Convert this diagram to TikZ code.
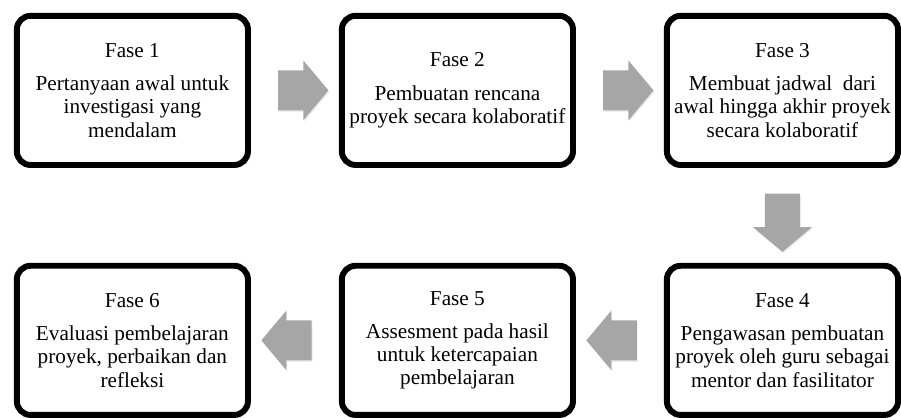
\documentclass[tikz,border=0pt]{standalone}
\usepackage{fontspec}
\setmainfont{Liberation Serif}
\usetikzlibrary{positioning,calc,shapes.arrows,shadows}
\definecolor{panahgray}{RGB}{166,166,166}

\begin{document}
\begin{tikzpicture}[node distance=102pt and 95pt]
  \tikzstyle{fase} = [draw=black, line width=6pt, rounded corners=14pt, fill=white,
    minimum width=234pt, minimum height=151pt, outer sep=0pt, align=center,
    font=\fontsize{21.5}{23.5}\selectfont,
    drop shadow={opacity=0.25, shadow xshift=2pt, shadow yshift=-3pt}]
  \tikzstyle{panah} = [single arrow, fill=panahgray, draw=none, inner xsep=0pt,
    inner ysep=20pt, minimum height=51pt, single arrow head extend=10pt,
    single arrow tip angle=100,
    drop shadow={opacity=0.15, shadow xshift=1pt, shadow yshift=-1.5pt}]
  \node (f1) [fase] {Fase 1\\[10pt]Pertanyaan awal untuk\\investigasi yang\\mendalam};
  \node (f2) [fase, right=of f1] {Fase 2\\[10pt]Pembuatan rencana\\proyek secara kolaboratif};
  \node (f3) [fase, right=of f2] {Fase 3\\[10pt]Membuat jadwal\ \ dari\\awal hingga akhir proyek\\secara kolaboratif};
  \node (f4) [fase, below=of f3] {Fase 4\\[10pt]Pengawasan pembuatan\\proyek oleh guru sebagai\\mentor dan fasilitator};
  \node (f5) [fase, left=of f4] {Fase 5\\[10pt]Assesment pada hasil\\untuk ketercapaian\\pembelajaran};
  \node (f6) [fase, left=of f5] {Fase 6\\[10pt]Evaluasi pembelajaran\\proyek, perbaikan dan\\refleksi};
  \node (p12) [panah] at ($(f1.east)!0.5!(f2.west)$) {};
  \node (p23) [panah] at ($(f2.east)!0.5!(f3.west)$) {};
  \node (p34) [panah, shape border rotate=270, minimum height=59pt, inner xsep=17.5pt,
    inner ysep=0pt, single arrow head extend=12pt] at ($(f3.south)!0.5!(f4.north)$) {};
  \node (p45) [panah, shape border rotate=180] at ($(f4.west)!0.5!(f5.east)$) {};
  \node (p56) [panah, shape border rotate=180] at ($(f5.west)!0.5!(f6.east)$) {};
  \useasboundingbox ($(f1.center)+(-134pt,91.5pt)$) rectangle ($(f1.center)+(767pt,-326.5pt)$);
\end{tikzpicture}
\end{document}
